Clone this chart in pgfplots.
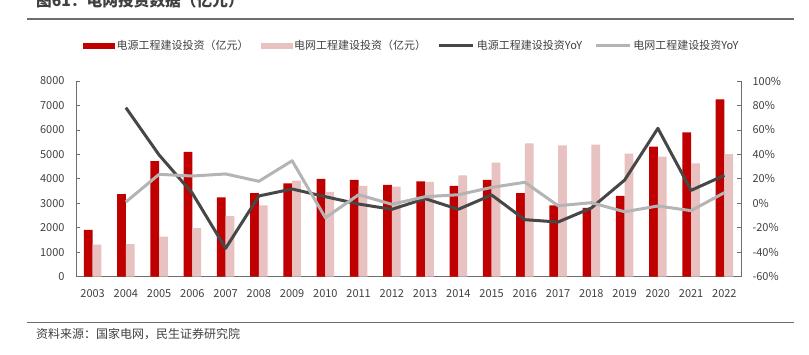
\documentclass[border=0pt]{standalone}
\usepackage{fontspec}
\setmainfont{Noto Sans CJK SC}
\usepackage{pgfplots}
\usepackage{pgfplotstable}
\pgfplotsset{compat=1.18}
\definecolor{cred}{HTML}{C00000}
\definecolor{cpink}{HTML}{E8C1C1}
\definecolor{cdark}{HTML}{474747}
\definecolor{clight}{HTML}{B4B4B4}
\definecolor{ctext}{HTML}{404040}
\definecolor{caxis}{HTML}{6E6E6E}

\pgfplotstableread{
x red pink
0 1910 1310
1 3380 1336
2 4720 1635
3 5100 1990
4 3245 2480
5 3420 2920
6 3820 3925
7 3995 3463
8 3955 3708
9 3750 3680
10 3900 3872
11 3710 4145
12 3955 4660
13 3420 5453
14 2920 5372
15 2810 5397
16 3300 5029
17 5315 4906
18 5900 4636
19 7250 5012
}\bars

\pgfplotstableread{
x d l
1 78.2 1.1
2 39.5 23.7
3 8.2 22.3
4 -36.8 24.0
5 6.0 18.0
6 11.7 34.8
7 5.4 -11.8
8 -0.6 7.0
9 -4.9 -0.8
10 3.8 5.4
11 -4.9 7.0
12 6.8 13.0
13 -13.4 17.2
14 -15.3 -2.0
15 -3.8 0.5
16 19.0 -6.9
17 61.3 -2.2
18 10.6 -6.0
19 22.9 8.7
}\lines

\begin{document}
\begin{tikzpicture}
\useasboundingbox (0,0) rectangle (809pt,355pt);
\draw[color=caxis, line width=1.3pt] (27pt,336pt) -- (794pt,336pt);
\draw[color=caxis, line width=1.3pt] (27pt,32.3pt) -- (794pt,32.3pt);
\node[anchor=base west, inner sep=0, font=\fontsize{15.7}{18}\selectfont\bfseries, text=ctext] at (36pt,348.8pt) {图61：电网投资数据（亿元）};
\node[anchor=west, inner sep=0, font=\fontsize{12}{14}\selectfont, text=ctext] at (36pt,21pt) {资料来源：国家电网，民生证券研究院};

\begin{axis}[
  at={(76pt,78.3pt)}, anchor=south west, scale only axis,
  width=665pt, height=195.7pt,
  xmin=-0.5, xmax=19.5, ymin=0, ymax=8000,
  axis x line*=bottom, axis y line*=left,
  ybar=0pt, bar width=8.7pt,
  xtick={0,...,19},
  xticklabels={2003,2004,2005,2006,2007,2008,2009,2010,2011,2012,2013,2014,2015,2016,2017,2018,2019,2020,2021,2022},
  ytick={0,1000,...,8000},
  tick align=inside, major tick length=4pt,
  x tick style={draw=none},
  y tick style={caxis, line width=0.8pt},
  axis line style={caxis, line width=0.8pt, -},
  tick label style={font=\fontsize{11}{13}\selectfont, text=ctext},
  /pgf/number format/assume math mode=true,
  /pgf/number format/1000 sep={},
  yticklabel style={xshift=-8pt},
  xticklabel style={yshift=-9pt},
]
\addplot[fill=cred, draw=none] table[x=x,y=red]{\bars};
\addplot[fill=cpink, draw=none] table[x=x,y=pink]{\bars};
\end{axis}

\begin{axis}[
  at={(76pt,78.3pt)}, anchor=south west, scale only axis,
  width=665pt, height=195.7pt,
  xmin=-0.5, xmax=19.5, ymin=-60, ymax=100,
  axis x line=none, axis y line*=right,
  ytick={-60,-40,...,100},
  yticklabel={\pgfmathprintnumber{\tick}\%},
  tick align=inside, major tick length=4pt,
  y tick style={caxis, line width=0.8pt},
  axis line style={caxis, line width=0.8pt, -},
  tick label style={font=\fontsize{11}{13}\selectfont, text=ctext},
  /pgf/number format/assume math mode=true,
  yticklabel style={xshift=8pt},
  legend columns=4,
  legend cell align=left,
  legend style={at={(axis description cs:0,1)}, anchor=west, xshift=7pt, yshift=35pt,
    draw=none, fill=none, inner sep=0pt,
    font=\fontsize{11}{13}\selectfont, text=ctext,
    /tikz/every even column/.append style={column sep=10pt}},
]
\addlegendimage{legend image code/.code={\fill[cred] (0pt,-2.4pt) rectangle (31pt,2.4pt);}}
\addlegendentry{电源工程建设投资（亿元）}
\addlegendimage{legend image code/.code={\fill[cpink] (0pt,-2.4pt) rectangle (31pt,2.4pt);}}
\addlegendentry{电网工程建设投资（亿元）}
\addplot[cdark, line width=3pt, line join=round, mark=none,
  legend image code/.code={\draw[cdark, line width=3pt] (0pt,0pt) -- (34pt,0pt);}]
  table[x=x,y=d]{\lines};
\addlegendentry{电源工程建设投资YoY}
\addplot[clight, line width=3pt, line join=round, mark=none,
  legend image code/.code={\draw[clight, line width=3pt] (0pt,0pt) -- (34pt,0pt);}]
  table[x=x,y=l]{\lines};
\addlegendentry{电网工程建设投资YoY}
\end{axis}
\end{tikzpicture}
\end{document}
